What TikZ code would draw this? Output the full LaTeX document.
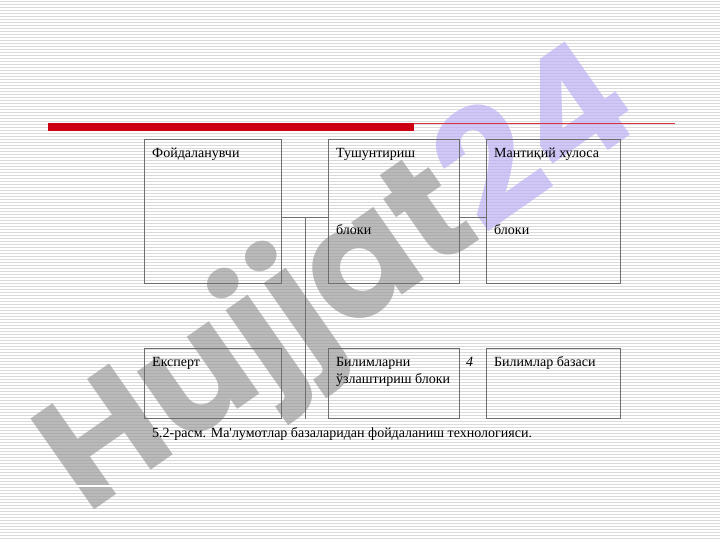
\documentclass[tikz,border=0pt]{standalone}
\usepackage{fontspec}
\setmainfont{Liberation Serif}[Ligatures=TeXOff]
\newfontfamily\wmfont{Poppins}
\definecolor{stripe}{RGB}{218,218,218}
\definecolor{boxline}{RGB}{110,110,110}
\definecolor{barred}{RGB}{204,0,18}
\definecolor{wmgray}{RGB}{150,150,150}
\definecolor{wmpurple}{RGB}{185,172,245}
\tikzset{
  blk/.style={draw=boxline,line width=0.8pt,rectangle,inner sep=0pt},
  lbl/.style={anchor=base west,inner sep=0pt,font=\fontsize{14}{17}\selectfont,text=black},
  conn/.style={draw=boxline,line width=0.8pt}
}
\begin{document}
\begin{tikzpicture}[x=1pt,y=-1pt]
\useasboundingbox (0,0) rectangle (720,540);
\fill[white] (0,0) rectangle (720,540);
\foreach \i in {0,...,179} {\draw[stripe,line width=1pt] (0,\i*3+1.5) -- (720,\i*3+1.5);}
% watermark
\node[rotate=35,anchor=base west,inner sep=0pt,opacity=0.65,
  font=\wmfont\bfseries\fontsize{158}{158}\selectfont,text=wmgray] (wm) at (86,516)
  {Hujjat\textcolor{wmpurple}{24}};
% red bar
\fill[barred] (48,123) rectangle (414,131);
\draw[barred!80,line width=0.8pt] (414,123.5) -- (675,123.5);
\draw[white,line width=1.5pt] (35,486) -- (675,486);
% boxes
\node[blk,minimum width=137pt,minimum height=144pt,anchor=north west] (A) at (144,139) {};
\node[blk,minimum width=131pt,minimum height=144pt,anchor=north west] (B) at (328,139) {};
\node[blk,minimum width=134pt,minimum height=144pt,anchor=north west] (C) at (486,139) {};
\node[blk,minimum width=137pt,minimum height=70pt,anchor=north west] (D) at (144,348) {};
\node[blk,minimum width=131pt,minimum height=70pt,anchor=north west] (E) at (328,348) {};
\node[blk,minimum width=134pt,minimum height=70pt,anchor=north west] (F) at (486,348) {};
% texts
\node[lbl] (tA) at (152,158) {Фойдаланувчи};
\node[lbl] (tB1) at (336,158) {Тушунтириш};
\node[lbl] (tB2) at (336,235) {блоки};
\node[lbl] (tC1) at (494,158) {Мантиқий хулоса};
\node[lbl] (tC2) at (494,235) {блоки};
\node[lbl] (tD) at (152,366) {Експерт};
\node[lbl] (tE1) at (336,366) {Билимларни};
\node[lbl] (tE2) at (336,383) {ўзлаштириш блоки};
\node[lbl,font=\itshape\fontsize{14}{17}\selectfont] (t4) at (466,366) {4};
\node[lbl] (tF) at (494,366) {Билимлар базаси};
\node[lbl] (cap) at (152,437) {5.2-расм. Ма'лумотлар базаларидан фойдаланиш технологияси.};
% connectors
\coordinate (j1) at (305,217);
\coordinate (j2) at (472,217);
\draw[conn] (A.east|-j1) -- (B.west|-j1);
\draw[conn] (j1) -- (j1|-D.south);
\draw[conn] (B.east|-j2) -- (C.west|-j2);
\end{tikzpicture}
\end{document}
